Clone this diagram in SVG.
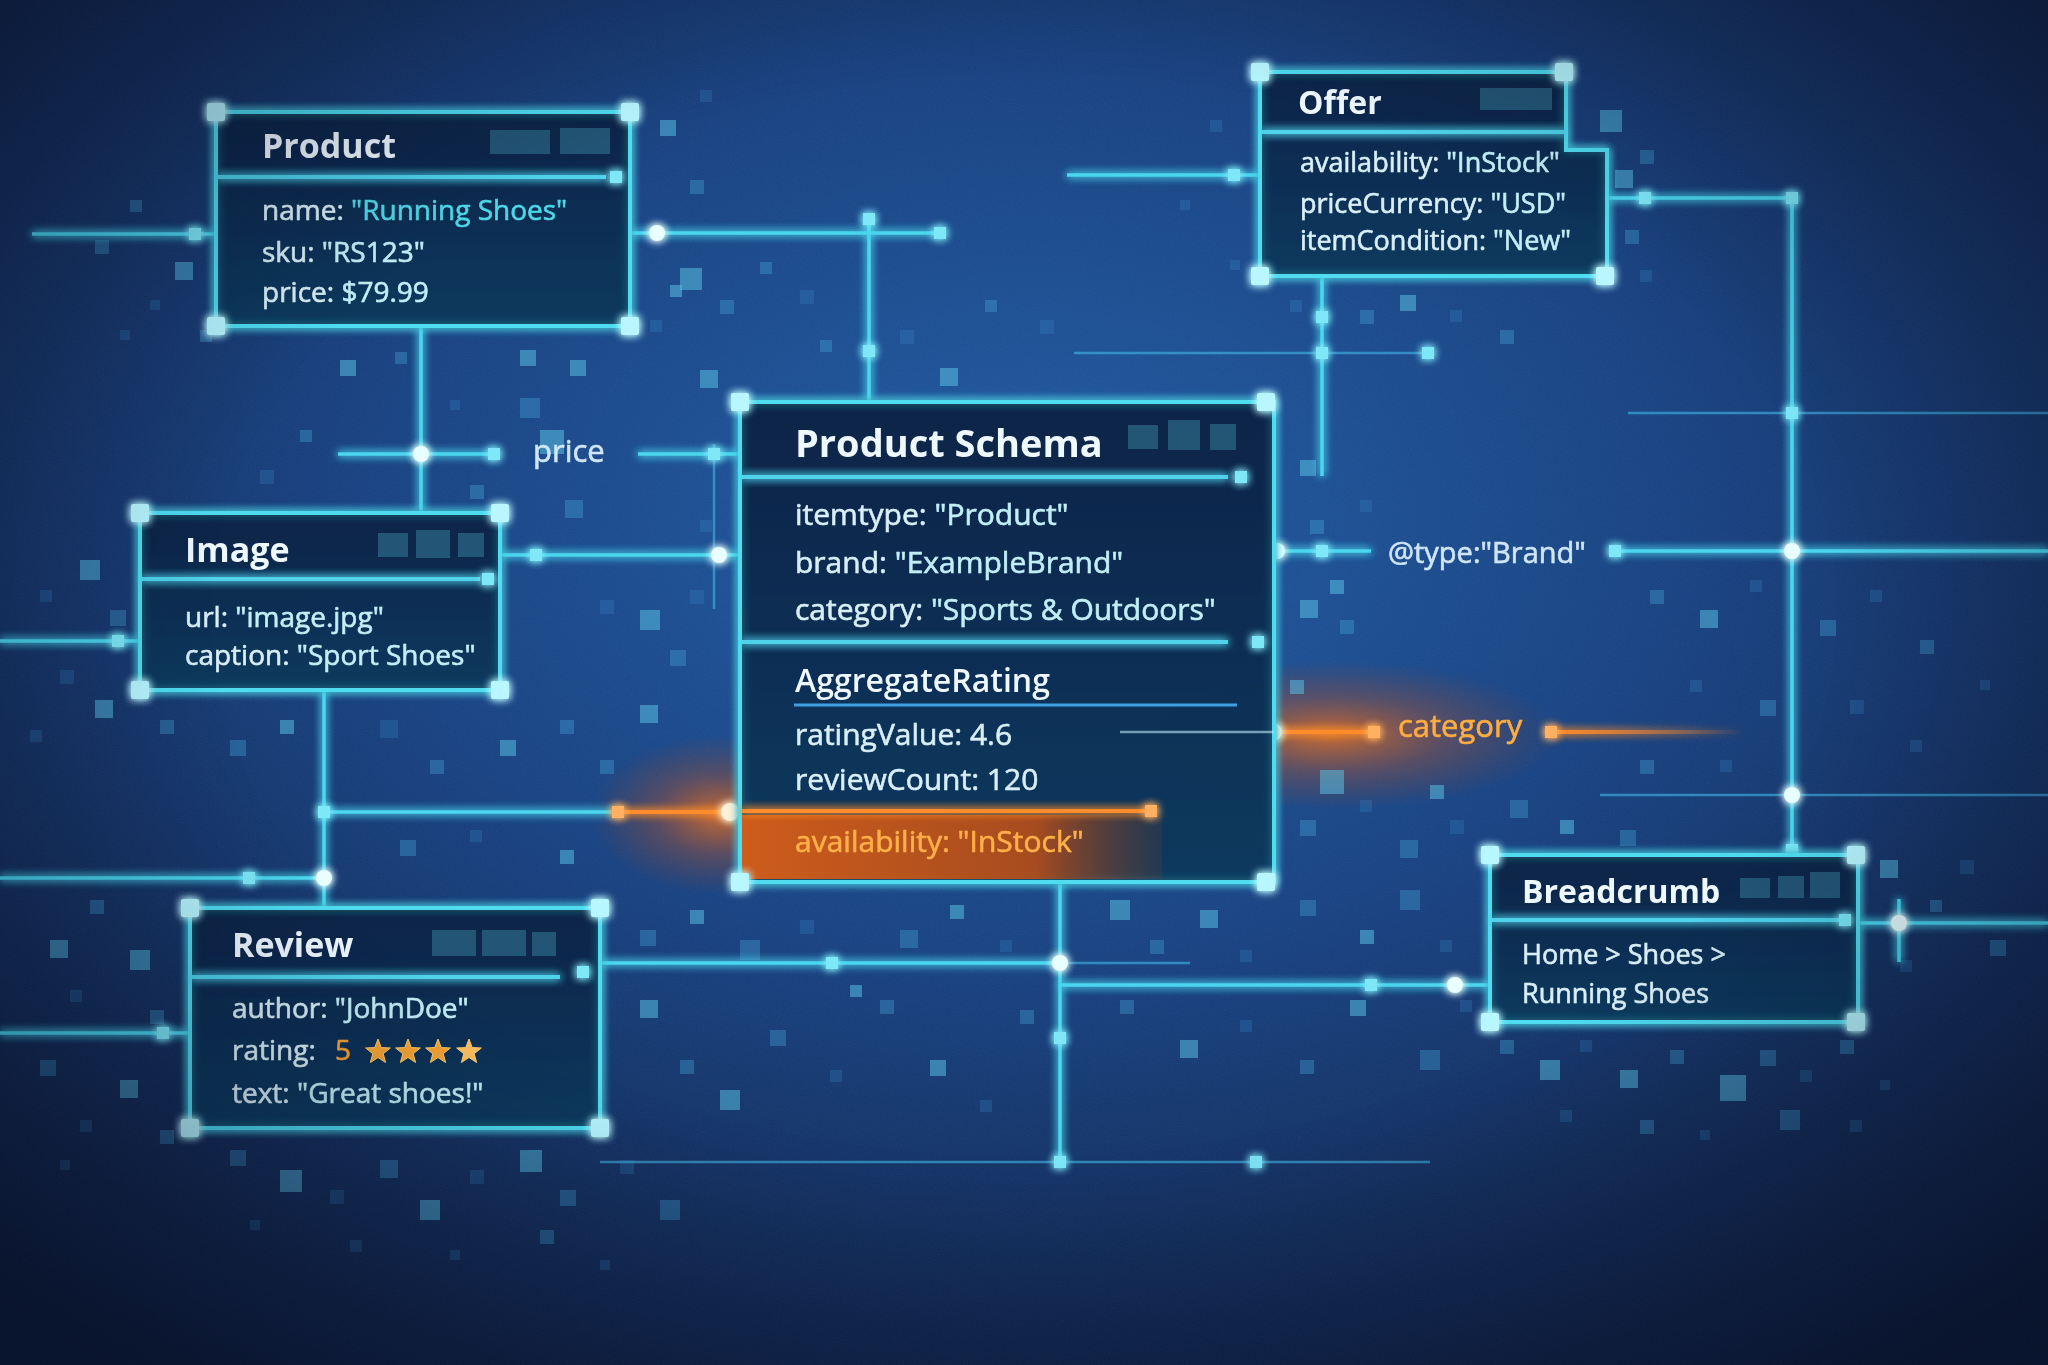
<svg xmlns="http://www.w3.org/2000/svg" xmlns:xlink="http://www.w3.org/1999/xlink" width="2048" height="1365" viewBox="0 0 2048 1365">
<defs>
<radialGradient id="bg" cx="50%" cy="38%" r="75%">
<stop offset="0" stop-color="#1f5aa2"/>
<stop offset="0.45" stop-color="#163f7e"/>
<stop offset="1" stop-color="#0a1838"/>
</radialGradient>
<radialGradient id="vig" cx="50%" cy="45%" r="72%">
<stop offset="0.55" stop-color="#050c20" stop-opacity="0"/>
<stop offset="1" stop-color="#050c20" stop-opacity="0.55"/>
</radialGradient>
<radialGradient id="og" cx="50%" cy="50%" r="50%">
<stop offset="0" stop-color="#ff7a1a" stop-opacity="0.75"/>
<stop offset="0.5" stop-color="#e0560e" stop-opacity="0.3"/>
<stop offset="1" stop-color="#c04000" stop-opacity="0"/>
</radialGradient>
<linearGradient id="boxg" x1="0" y1="0" x2="0" y2="1">
<stop offset="0" stop-color="#0a2347"/>
<stop offset="1" stop-color="#0d3a5e"/>
</linearGradient>
<linearGradient id="rowg" x1="0" y1="0" x2="1" y2="0">
<stop offset="0" stop-color="#d85e18" stop-opacity="0.95"/>
<stop offset="0.7" stop-color="#b84e18" stop-opacity="0.9"/>
<stop offset="1" stop-color="#7a3a24" stop-opacity="0.2"/>
</linearGradient>
<linearGradient id="fadeR" gradientUnits="userSpaceOnUse" x1="1551" y1="0" x2="1745" y2="0">
<stop offset="0" stop-color="#ff8a2a"/>
<stop offset="1" stop-color="#ff8a2a" stop-opacity="0"/>
</linearGradient>
<filter id="glow" x="-20%" y="-20%" width="140%" height="140%">
<feGaussianBlur stdDeviation="4" result="b"/>
<feMerge><feMergeNode in="b"/><feMergeNode in="b"/><feMergeNode in="SourceGraphic"/></feMerge>
</filter>
<filter id="glowL" filterUnits="userSpaceOnUse" x="-50" y="-50" width="2150" height="1465">
<feGaussianBlur stdDeviation="4" result="b"/>
<feMerge><feMergeNode in="b"/><feMergeNode in="b"/><feMergeNode in="SourceGraphic"/></feMerge>
</filter>
<filter id="grain" x="0" y="0" width="100%" height="100%">
<feTurbulence type="fractalNoise" baseFrequency="0.85" numOctaves="2" seed="3"/>
<feColorMatrix type="matrix" values="0 0 0 0 0.6  0 0 0 0 0.75  0 0 0 0 1  0 0 0 0.55 0"/>
</filter>
<rect id="corner" x="-9" y="-9" width="18" height="18" rx="2" fill="#b8f7ff"/>
<rect id="sq" x="-6" y="-6" width="12" height="12" fill="#7ee8f8"/>
<rect id="osq" x="-6" y="-6" width="12" height="12" fill="#ffb060"/>
<circle id="jn" r="8" fill="#e8feff"/>
<circle id="ojn" r="9" fill="#fff0d8"/>
<polygon id="star" points="0,-13 3.23,-4.45 12.36,-4.02 5.23,1.7 7.64,10.52 0,5.5 -7.64,10.52 -5.23,1.7 -12.36,-4.02 -3.23,-4.45"/>
<style>
text{font-family:"Open Sans","Noto Sans","DejaVu Sans",sans-serif}
.box{fill:url(#boxg);fill-opacity:0.85;stroke:#4fdcf0;stroke-width:4;filter:url(#glow)}
.hdr{stroke:#4fd2ea;stroke-width:4;filter:url(#glowL)}
.sub{stroke:#3f9fe0;stroke-width:3}
.cn{filter:url(#glow)}
.ttl{fill:#eef8ff;font-weight:700;font-size:34px}
.tx,.tx2,.tx3{fill:#d8eff7;stroke:#d8eff7;stroke-width:0.6}
.tx{font-size:28px}
.tx2{font-size:30px}
.tx3{font-size:27px}
.val{fill:#c2eef6;stroke:#c2eef6}
.cyan{fill:#4fd8e8;stroke:#4fd8e8}
.lbl{fill:#cfe6f6;stroke:#cfe6f6;stroke-width:0.6}
.ln{stroke:#4ad6ee;stroke-width:3.5;fill:none;filter:url(#glowL)}
.lnf{stroke:#3fb0e0;stroke-width:2.5;fill:none;opacity:0.65}
.orl{stroke:#ff8c2c;stroke-width:4;fill:none;filter:url(#glowL)}
.pa{fill:#5cc8ea;opacity:0.5}
.pb{fill:#4aaee0;opacity:0.34}
.pc{fill:#3f94d4;opacity:0.22}
.deco{fill:#5fd0e6;opacity:0.28}
</style>
</defs>

<rect width="2048" height="1365" fill="url(#bg)"/>
<rect width="2048" height="1365" filter="url(#grain)" opacity="0.12"/>

<!-- orange ambient glows -->
<ellipse cx="720" cy="815" rx="130" ry="80" fill="url(#og)"/>
<ellipse cx="1330" cy="735" rx="230" ry="75" fill="url(#og)"/>

<!-- decorative particles -->
<g id="particles">
<rect class="pa" x="175" y="262" width="18" height="18"/><rect class="pb" x="130" y="200" width="12" height="12"/><rect class="pb" x="95" y="240" width="14" height="14"/><rect class="pc" x="150" y="300" width="10" height="10"/><rect class="pb" x="200" y="330" width="12" height="12"/><rect class="pc" x="120" y="330" width="10" height="10"/>
<rect class="pa" x="340" y="360" width="16" height="16"/><rect class="pb" x="395" y="352" width="12" height="12"/><rect class="pa" x="520" y="350" width="16" height="16"/><rect class="pb" x="520" y="398" width="20" height="20"/><rect class="pa" x="570" y="360" width="16" height="16"/><rect class="pc" x="450" y="400" width="10" height="10"/><rect class="pb" x="300" y="430" width="12" height="12"/><rect class="pc" x="260" y="470" width="14" height="14"/><rect class="pb" x="470" y="485" width="14" height="14"/>
<rect class="pa" x="680" y="268" width="22" height="22"/><rect class="pb" x="720" y="300" width="14" height="14"/><rect class="pc" x="650" y="320" width="12" height="12"/><rect class="pa" x="700" y="370" width="18" height="18"/><rect class="pb" x="760" y="262" width="12" height="12"/><rect class="pc" x="800" y="290" width="14" height="14"/><rect class="pb" x="820" y="340" width="12" height="12"/><rect class="pc" x="900" y="330" width="14" height="14"/><rect class="pa" x="940" y="368" width="18" height="18"/><rect class="pb" x="985" y="300" width="12" height="12"/><rect class="pc" x="1040" y="320" width="14" height="14"/>
<rect class="pa" x="540" y="430" width="24" height="24"/><rect class="pb" x="565" y="500" width="18" height="18"/><rect class="pc" x="600" y="600" width="14" height="14"/><rect class="pa" x="640" y="610" width="20" height="20"/><rect class="pb" x="670" y="650" width="16" height="16"/><rect class="pc" x="690" y="590" width="14" height="14"/><rect class="pa" x="640" y="705" width="18" height="18"/><rect class="pb" x="560" y="720" width="14" height="14"/><rect class="pc" x="700" y="520" width="12" height="12"/><rect class="pb" x="600" y="760" width="14" height="14"/>
<rect class="pa" x="80" y="560" width="20" height="20"/><rect class="pc" x="40" y="590" width="12" height="12"/><rect class="pb" x="110" y="610" width="16" height="16"/><rect class="pc" x="60" y="670" width="14" height="14"/><rect class="pa" x="95" y="700" width="18" height="18"/><rect class="pc" x="30" y="730" width="12" height="12"/><rect class="pb" x="160" y="720" width="14" height="14"/><rect class="pb" x="230" y="740" width="16" height="16"/><rect class="pa" x="280" y="720" width="14" height="14"/><rect class="pc" x="380" y="720" width="18" height="18"/><rect class="pb" x="430" y="760" width="14" height="14"/><rect class="pa" x="500" y="740" width="16" height="16"/><rect class="pc" x="470" y="830" width="12" height="12"/><rect class="pb" x="400" y="840" width="16" height="16"/><rect class="pa" x="560" y="850" width="14" height="14"/>
<rect class="pb" x="90" y="900" width="14" height="14"/><rect class="pa" x="50" y="940" width="18" height="18"/><rect class="pa" x="130" y="950" width="20" height="20"/><rect class="pc" x="70" y="990" width="12" height="12"/><rect class="pb" x="150" y="1010" width="14" height="14"/><rect class="pb" x="40" y="1060" width="16" height="16"/><rect class="pa" x="120" y="1080" width="18" height="18"/><rect class="pc" x="80" y="1120" width="12" height="12"/><rect class="pb" x="160" y="1130" width="14" height="14"/><rect class="pc" x="60" y="1160" width="10" height="10"/>
<rect class="pb" x="230" y="1150" width="16" height="16"/><rect class="pa" x="280" y="1170" width="22" height="22"/><rect class="pc" x="330" y="1190" width="14" height="14"/><rect class="pb" x="380" y="1160" width="18" height="18"/><rect class="pa" x="420" y="1200" width="20" height="20"/><rect class="pc" x="470" y="1170" width="14" height="14"/><rect class="pa" x="520" y="1150" width="22" height="22"/><rect class="pb" x="560" y="1190" width="16" height="16"/><rect class="pc" x="620" y="1160" width="14" height="14"/><rect class="pb" x="660" y="1200" width="20" height="20"/><rect class="pc" x="250" y="1220" width="10" height="10"/><rect class="pc" x="350" y="1240" width="12" height="12"/><rect class="pc" x="450" y="1250" width="10" height="10"/><rect class="pb" x="540" y="1230" width="14" height="14"/><rect class="pc" x="600" y="1260" width="10" height="10"/>
<rect class="pb" x="640" y="930" width="16" height="16"/><rect class="pa" x="690" y="910" width="14" height="14"/><rect class="pb" x="740" y="940" width="20" height="20"/><rect class="pc" x="800" y="920" width="14" height="14"/><rect class="pa" x="850" y="985" width="12" height="12"/><rect class="pb" x="900" y="930" width="18" height="18"/><rect class="pa" x="950" y="905" width="14" height="14"/><rect class="pc" x="1000" y="940" width="12" height="12"/><rect class="pa" x="640" y="1000" width="18" height="18"/><rect class="pb" x="680" y="1060" width="14" height="14"/><rect class="pa" x="720" y="1090" width="20" height="20"/><rect class="pb" x="770" y="1030" width="16" height="16"/><rect class="pc" x="830" y="1070" width="12" height="12"/><rect class="pb" x="880" y="1000" width="14" height="14"/><rect class="pa" x="930" y="1060" width="16" height="16"/><rect class="pc" x="980" y="1100" width="12" height="12"/><rect class="pb" x="1020" y="1010" width="14" height="14"/>
<rect class="pa" x="1110" y="900" width="20" height="20"/><rect class="pb" x="1150" y="940" width="14" height="14"/><rect class="pa" x="1200" y="910" width="18" height="18"/><rect class="pc" x="1240" y="950" width="12" height="12"/><rect class="pb" x="1300" y="900" width="16" height="16"/><rect class="pa" x="1360" y="930" width="14" height="14"/><rect class="pb" x="1400" y="890" width="20" height="20"/><rect class="pc" x="1440" y="940" width="12" height="12"/><rect class="pb" x="1120" y="1000" width="14" height="14"/><rect class="pa" x="1180" y="1040" width="18" height="18"/><rect class="pc" x="1240" y="1020" width="12" height="12"/><rect class="pb" x="1300" y="1060" width="14" height="14"/><rect class="pa" x="1350" y="1000" width="16" height="16"/><rect class="pb" x="1420" y="1050" width="20" height="20"/><rect class="pc" x="1460" y="1000" width="12" height="12"/>
<rect class="pb" x="1500" y="1040" width="14" height="14"/><rect class="pa" x="1540" y="1060" width="20" height="20"/><rect class="pc" x="1580" y="1040" width="12" height="12"/><rect class="pa" x="1620" y="1070" width="18" height="18"/><rect class="pb" x="1670" y="1050" width="14" height="14"/><rect class="pa" x="1720" y="1075" width="26" height="26"/><rect class="pb" x="1760" y="1050" width="16" height="16"/><rect class="pc" x="1800" y="1070" width="12" height="12"/><rect class="pb" x="1840" y="1040" width="14" height="14"/><rect class="pc" x="1880" y="1080" width="10" height="10"/><rect class="pc" x="1560" y="1110" width="12" height="12"/><rect class="pb" x="1640" y="1120" width="14" height="14"/><rect class="pc" x="1700" y="1130" width="10" height="10"/><rect class="pb" x="1780" y="1110" width="20" height="20"/><rect class="pc" x="1850" y="1120" width="12" height="12"/>
<rect class="pa" x="1880" y="860" width="18" height="18"/><rect class="pb" x="1930" y="900" width="12" height="12"/><rect class="pc" x="1960" y="860" width="14" height="14"/><rect class="pb" x="1990" y="940" width="16" height="16"/><rect class="pc" x="1900" y="960" width="12" height="12"/>
<rect class="pb" x="1650" y="590" width="14" height="14"/><rect class="pa" x="1700" y="610" width="18" height="18"/><rect class="pc" x="1750" y="580" width="12" height="12"/><rect class="pb" x="1820" y="620" width="16" height="16"/><rect class="pc" x="1870" y="590" width="12" height="12"/><rect class="pb" x="1920" y="640" width="14" height="14"/><rect class="pc" x="1690" y="680" width="12" height="12"/><rect class="pb" x="1760" y="700" width="16" height="16"/><rect class="pc" x="1850" y="700" width="14" height="14"/><rect class="pc" x="1910" y="740" width="12" height="12"/><rect class="pc" x="1980" y="680" width="10" height="10"/><rect class="pb" x="1640" y="760" width="14" height="14"/><rect class="pc" x="1720" y="760" width="12" height="12"/>
<rect class="pa" x="1300" y="600" width="18" height="18"/><rect class="pb" x="1340" y="620" width="14" height="14"/><rect class="pa" x="1290" y="680" width="14" height="14"/><rect class="pa" x="1320" y="770" width="24" height="24"/><rect class="pb" x="1300" y="820" width="16" height="16"/><rect class="pc" x="1360" y="800" width="12" height="12"/><rect class="pb" x="1400" y="840" width="18" height="18"/><rect class="pc" x="1450" y="820" width="14" height="14"/><rect class="pa" x="1430" y="785" width="14" height="14"/><rect class="pb" x="1510" y="800" width="18" height="18"/><rect class="pa" x="1560" y="820" width="14" height="14"/><rect class="pb" x="1620" y="830" width="16" height="16"/>
<rect class="pa" x="1600" y="110" width="22" height="22"/><rect class="pb" x="1640" y="150" width="14" height="14"/><rect class="pa" x="1615" y="170" width="18" height="18"/><rect class="pb" x="1625" y="230" width="14" height="14"/><rect class="pc" x="1640" y="270" width="12" height="12"/><rect class="pc" x="1290" y="300" width="12" height="12"/><rect class="pb" x="1360" y="310" width="14" height="14"/><rect class="pa" x="1400" y="295" width="16" height="16"/><rect class="pc" x="1450" y="310" width="12" height="12"/><rect class="pb" x="1500" y="330" width="14" height="14"/><rect class="pc" x="1230" y="260" width="10" height="10"/><rect class="pc" x="1210" y="120" width="12" height="12"/><rect class="pc" x="1180" y="200" width="10" height="10"/>
<rect class="pa" x="660" y="120" width="16" height="16"/><rect class="pc" x="700" y="90" width="12" height="12"/><rect class="pb" x="690" y="180" width="14" height="14"/><rect class="pa" x="670" y="285" width="12" height="12"/>
<rect class="pb" x="1240" y="440" width="14" height="14"/><rect class="pa" x="1300" y="460" width="16" height="16"/><rect class="pb" x="1310" y="520" width="14" height="14"/><rect class="pc" x="1360" y="500" width="12" height="12"/><rect class="pa" x="1330" y="580" width="14" height="14"/>
</g>

<!-- connectors -->
<g id="connectors">
<path class="ln" d="M32 234 H216"/>
<path class="ln" d="M630 233 H940"/>
<path class="ln" d="M869 219 V402"/>
<path class="ln" d="M421 326 V513"/>
<path class="ln" d="M338 454 H494"/>
<path class="ln" d="M638 454 H740"/>
<path class="lnf" d="M714 444 V609"/>
<path class="ln" d="M500 555 H740"/>
<path class="ln" d="M0 641 H140"/>
<path class="ln" d="M324 690 V908"/>
<path class="ln" d="M324 812 H618"/>
<path class="orl" d="M618 812 H744"/>
<path class="ln" d="M0 878 H324"/>
<path class="ln" d="M0 1033 H190"/>
<path class="ln" d="M600 963 H1060"/>
<path class="lnf" d="M1060 963 H1190"/>
<path class="ln" d="M1060 882 V1162"/>
<path class="ln" d="M1060 985 H1490"/>
<path class="lnf" d="M600 1162 H1430"/>
<path class="ln" d="M1274 551 H1371"/>
<path class="ln" d="M1615 551 H2048"/>
<path class="orl" d="M1273 732 H1374"/>
<path d="M1551 732 H1745" stroke="url(#fadeR)" stroke-width="4" fill="none" filter="url(#glowL)"/>
<path class="ln" d="M1067 175 H1260"/>
<path class="ln" d="M1607 198 H1792 V855"/>
<path class="ln" d="M1322 276 V476"/>
<path class="lnf" d="M1074 353 H1428"/>
<path class="lnf" d="M1628 413 H2048"/>
<path class="lnf" d="M1600 795 H2048"/>
<path class="ln" d="M1858 923 H2048"/>
<path class="ln" d="M1899 899 V962"/>
<g class="cn">
<use href="#sq" x="195" y="234"/><use href="#jn" x="657" y="233"/><use href="#sq" x="940" y="233"/>
<use href="#sq" x="869" y="219"/><use href="#sq" x="869" y="351"/>
<use href="#jn" x="421" y="454"/><use href="#sq" x="494" y="454"/><use href="#sq" x="714" y="454"/>
<use href="#sq" x="536" y="555"/><use href="#jn" x="719" y="555"/>
<use href="#sq" x="118" y="641"/>
<use href="#sq" x="324" y="812"/><use href="#osq" x="618" y="812"/><use href="#ojn" x="730" y="812"/>
<use href="#sq" x="249" y="878"/><use href="#jn" x="324" y="878"/>
<use href="#sq" x="163" y="1033"/>
<use href="#sq" x="832" y="963"/><use href="#jn" x="1060" y="963"/><use href="#sq" x="1060" y="1038"/><use href="#sq" x="1060" y="1162"/>
<use href="#sq" x="1371" y="985"/><use href="#jn" x="1455" y="985"/><use href="#sq" x="1256" y="1162"/>
<use href="#jn" x="1277" y="551"/><use href="#sq" x="1322" y="551"/><use href="#sq" x="1615" y="551"/><use href="#jn" x="1792" y="551"/>
<use href="#ojn" x="1273" y="732"/><use href="#osq" x="1374" y="732"/><use href="#osq" x="1551" y="732"/>
<use href="#sq" x="1234" y="175"/><use href="#sq" x="1645" y="198"/><use href="#sq" x="1792" y="198"/>
<use href="#sq" x="1322" y="317"/><use href="#sq" x="1322" y="353"/><use href="#sq" x="1428" y="353"/>
<use href="#sq" x="1792" y="413"/><use href="#jn" x="1792" y="795"/><use href="#sq" x="1792" y="850"/>
<use href="#jn" x="1899" y="923"/>
</g>
</g>

<!-- Product -->
<g id="product">
<rect class="box" x="216" y="112" width="414" height="214"/>
<rect class="deco" x="490" y="130" width="60" height="24"/><rect class="deco" x="560" y="128" width="50" height="26"/>
<line class="hdr" x1="218" y1="177" x2="606" y2="177"/>
<g class="cn"><use href="#corner" x="216" y="112"/><use href="#corner" x="630" y="112"/><use href="#corner" x="216" y="326"/><use href="#corner" x="630" y="326"/><use href="#sq" x="616" y="177"/></g>
<text class="ttl" x="262" y="158">Product</text>
<text class="tx" x="262" y="220">name: <tspan class="cyan">"Running Shoes"</tspan></text>
<text class="tx" x="262" y="262">sku: <tspan class="val">"RS123"</tspan></text>
<text class="tx" x="262" y="302">price: <tspan class="val">$79.99</tspan></text>
</g>

<!-- Image -->
<g id="image">
<rect class="box" x="140" y="513" width="360" height="177"/>
<rect class="deco" x="378" y="533" width="30" height="24"/><rect class="deco" x="416" y="530" width="34" height="28"/><rect class="deco" x="458" y="533" width="26" height="24"/>
<line class="hdr" x1="142" y1="579" x2="480" y2="579"/>
<g class="cn"><use href="#corner" x="140" y="513"/><use href="#corner" x="500" y="513"/><use href="#corner" x="140" y="690"/><use href="#corner" x="500" y="690"/><use href="#sq" x="488" y="579"/></g>
<text class="ttl" x="185" y="562">Image</text>
<text class="tx" x="185" y="627">url: <tspan class="val">"image.jpg"</tspan></text>
<text class="tx" x="185" y="665">caption: <tspan class="val">"Sport Shoes"</tspan></text>
</g>

<!-- Review -->
<g id="review">
<rect class="box" x="190" y="908" width="410" height="220"/>
<rect class="deco" x="432" y="930" width="44" height="26"/><rect class="deco" x="482" y="930" width="44" height="26"/><rect class="deco" x="532" y="932" width="24" height="24"/>
<line class="hdr" x1="192" y1="977" x2="560" y2="977"/>
<g class="cn"><use href="#corner" x="190" y="908"/><use href="#corner" x="600" y="908"/><use href="#corner" x="190" y="1128"/><use href="#corner" x="600" y="1128"/><use href="#sq" x="583" y="972"/></g>
<text class="ttl" x="232" y="957">Review</text>
<text class="tx" x="232" y="1018">author: <tspan class="val">"JohnDoe"</tspan></text>
<text class="tx" x="232" y="1060">rating: </text>
<text class="tx" x="335" y="1060" style="fill:#f6a234;stroke:#f6a234">5</text>
<g fill="#f7a534" stroke="#ffcf6a" stroke-width="1">
<use href="#star" x="378" y="1052"/><use href="#star" x="408" y="1052"/><use href="#star" x="438" y="1052"/><use href="#star" x="469" y="1052" fill="#ffc060"/>
</g>
<text class="tx" x="232" y="1103">text: <tspan class="val">"Great shoes!"</tspan></text>
</g>

<!-- Product Schema -->
<g id="product-schema">
<rect class="box" x="740" y="402" width="534" height="480"/>
<rect x="742" y="815" width="420" height="64" fill="url(#rowg)"/>
<rect class="deco" x="1128" y="425" width="30" height="24"/><rect class="deco" x="1168" y="420" width="32" height="30"/><rect class="deco" x="1210" y="424" width="26" height="26"/>
<line class="hdr" x1="742" y1="477" x2="1228" y2="477"/>
<line class="hdr" x1="742" y1="642" x2="1228" y2="642"/>
<line class="sub" x1="794" y1="705" x2="1237" y2="705"/>
<line x1="1120" y1="732" x2="1274" y2="732" stroke="#bfe8f4" stroke-width="2.5" opacity="0.6"/>
<line class="orl" x1="742" y1="811" x2="1151" y2="811"/>
<g class="cn"><use href="#corner" x="740" y="402"/><use href="#corner" x="1266" y="402"/><use href="#corner" x="740" y="882"/><use href="#corner" x="1266" y="882"/><use href="#sq" x="1241" y="477"/><use href="#sq" x="1258" y="642"/><use href="#osq" x="1151" y="811"/></g>
<text class="ttl" x="795" y="457" style="font-size:38px">Product Schema</text>
<text class="tx2" x="795" y="525">itemtype: <tspan class="val">"Product"</tspan></text>
<text class="tx2" x="795" y="573">brand: <tspan class="val">"ExampleBrand"</tspan></text>
<text class="tx2" x="795" y="620">category: <tspan class="val">"Sports &amp; Outdoors"</tspan></text>
<text class="ttl" x="795" y="692" style="font-size:32px;font-weight:600">AggregateRating</text>
<text class="tx2" x="795" y="745">ratingValue: 4.6</text>
<text class="tx2" x="795" y="790">reviewCount: 120</text>
<text class="tx2" x="795" y="852" style="fill:#ffb048;stroke:#ffb048">availability: "InStock"</text>
</g>

<!-- Offer -->
<g id="offer">
<path class="box" d="M1260 72 H1566 V150 H1607 V276 H1260 Z"/>
<rect class="deco" x="1480" y="88" width="72" height="22"/>
<line class="hdr" x1="1262" y1="132" x2="1566" y2="132"/>
<g class="cn"><use href="#corner" x="1260" y="72"/><use href="#corner" x="1564" y="72"/><use href="#corner" x="1260" y="276"/><use href="#corner" x="1605" y="276"/></g>
<text class="ttl" x="1298" y="114" style="font-size:32px">Offer</text>
<text class="tx3" x="1300" y="172">availability: <tspan class="val">"InStock"</tspan></text>
<text class="tx3" x="1300" y="213">priceCurrency: <tspan class="val">"USD"</tspan></text>
<text class="tx3" x="1300" y="250">itemCondition: <tspan class="val">"New"</tspan></text>
</g>

<!-- Breadcrumb -->
<g id="breadcrumb">
<rect class="box" x="1490" y="855" width="368" height="167"/>
<rect class="deco" x="1740" y="878" width="30" height="20"/><rect class="deco" x="1778" y="876" width="26" height="22"/><rect class="deco" x="1810" y="872" width="30" height="26"/>
<line class="hdr" x1="1492" y1="920" x2="1840" y2="920"/>
<g class="cn"><use href="#corner" x="1490" y="855"/><use href="#corner" x="1856" y="855"/><use href="#corner" x="1490" y="1022"/><use href="#corner" x="1856" y="1022"/><use href="#sq" x="1845" y="920"/></g>
<text class="ttl" x="1522" y="903" style="font-size:32px">Breadcrumb</text>
<text class="tx3" x="1522" y="964">Home &gt; Shoes &gt;</text>
<text class="tx3" x="1522" y="1003">Running Shoes</text>
</g>

<!-- connector labels -->
<g id="labels">
<text class="lbl" x="533" y="462" style="font-size:31px">price</text>
<text class="lbl" x="1388" y="563" style="font-size:29px">@type:"Brand"</text>
<text x="1398" y="737" style="font-size:31px;fill:#ffac40;stroke:#ffac40;stroke-width:0.6">category</text>
</g>

<!-- vignette -->
<rect width="2048" height="1365" fill="url(#vig)"/>
</svg>
